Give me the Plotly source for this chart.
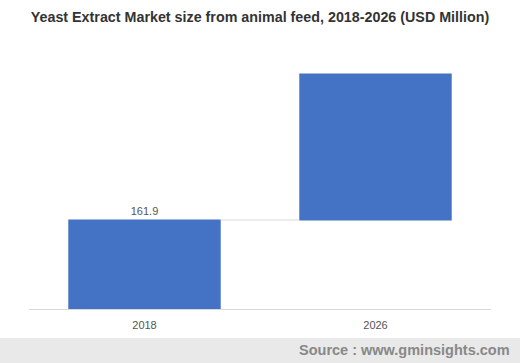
import plotly.graph_objects as go

categories = ["2018", "2026"]
values_2018_2026 = [161.9, 427.5]
label_text = ["161.9", ""]
title_text = "Yeast Extract Market size from animal feed, 2018-2026 (USD Million)"
source_text = "Source : www.gminsights.com"

increments = [values_2018_2026[0], values_2018_2026[1] - values_2018_2026[0]]

bar_color = "#4472C4"
fig = go.Figure(go.Waterfall(
    x=categories,
    y=increments,
    measure=["absolute", "relative"],
    text=label_text,
    textposition="outside",
    textfont=dict(family="Liberation Sans, Arial", size=11, color="#555555"),
    increasing=dict(marker=dict(color=bar_color)),
    decreasing=dict(marker=dict(color=bar_color)),
    totals=dict(marker=dict(color=bar_color)),
    connector=dict(line=dict(color="#d9d9d9", width=1)),
    cliponaxis=False,
    hoverinfo="skip",
))

L, R, T, B = 29, 29, 60, 54
W, H = 520, 363
pw = W - L - R
ph = H - T - B

fig.update_layout(
    width=W, height=H,
    margin=dict(l=L, r=R, t=T, b=B),
    paper_bgcolor="white", plot_bgcolor="white",
    showlegend=False,
    waterfallgap=0.34,
    title=dict(text="<b>" + title_text + "</b>", x=0.5, xanchor="center",
               y=1 - 17 / H, yanchor="middle",
               font=dict(family="Liberation Sans, Arial", size=14.3, color="#333333")),
    xaxis=dict(showline=True, linecolor="#d9d9d9", linewidth=1, ticks="",
               ticklabelstandoff=6,
               tickfont=dict(family="Liberation Sans, Arial", size=11, color="#555555"),
               showgrid=False, zeroline=False),
    yaxis=dict(range=[0, 453], visible=False, showgrid=False, zeroline=False),
    font=dict(family="Liberation Sans, Arial"),
)

fig.add_shape(type="rect", xref="paper", yref="paper",
              x0=-L / pw, x1=1 + R / pw,
              y0=-(338 - (T + ph)) / ph, y1=-(H - (T + ph)) / ph,
              fillcolor="#e9e9e9", line=dict(width=0), layer="below")
fig.add_annotation(text="<b>" + source_text + "</b>", xref="paper", yref="paper",
                   x=1 + (R - 8) / pw, xanchor="right",
                   y=-(350 - (T + ph)) / ph, yanchor="middle", showarrow=False,
                   font=dict(family="Liberation Sans, Arial", size=14.5, color="#888888"))

fig.write_html("out.html", config={"displayModeBar": False},
               post_script="document.body.style.margin='0';document.body.style.overflow='hidden';")
